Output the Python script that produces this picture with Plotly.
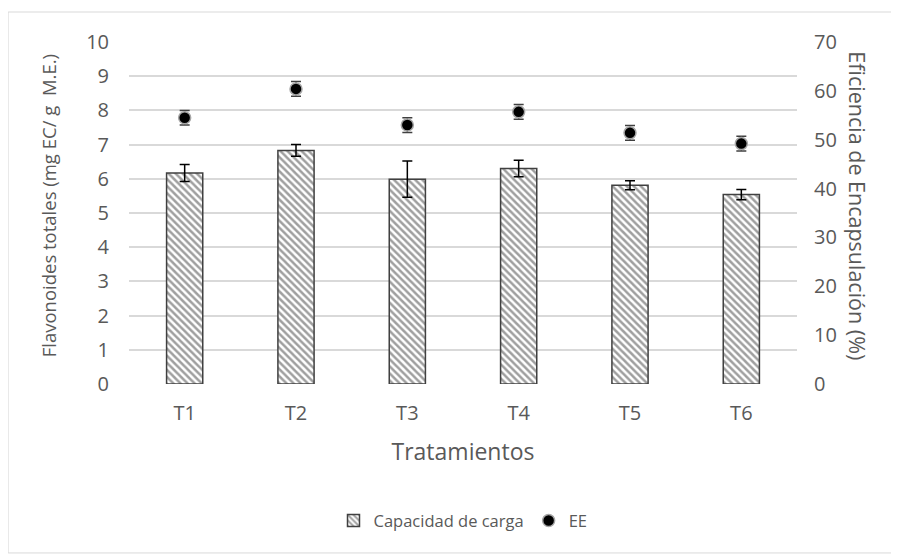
import plotly.graph_objects as go

categories = ["T1", "T2", "T3", "T4", "T5", "T6"]
capacidad = [6.17, 6.83, 5.99, 6.30, 5.81, 5.54]
capacidad_err = [0.25, 0.17, 0.53, 0.24, 0.13, 0.15]
ee = [54.5, 60.4, 53.0, 55.7, 51.4, 49.2]
ee_err = [1.5, 1.5, 1.5, 1.5, 1.5, 1.5]

font_family = "'Open Sans', sans-serif"
txt = "#595959"

fig = go.Figure()
fig.add_trace(go.Bar(
    x=categories, y=capacidad, name="Capacidad de carga",
    marker=dict(color="white",
                line=dict(color="#404040", width=1.5),
                pattern=dict(shape="\\", fgcolor="#404040", bgcolor="white",
                             size=5, solidity=0.5, fillmode="overlay")),
    error_y=dict(type="data", array=capacidad_err, color="black", thickness=1.5, width=5),
    yaxis="y",
))
fig.add_trace(go.Scatter(
    x=categories, y=ee, name="EE", mode="markers",
    marker=dict(color="black", size=12, line=dict(color="#a6a6a6", width=1.5)),
    error_y=dict(type="data", array=ee_err, color="#404040", thickness=1.5, width=5),
    yaxis="y2",
))

fig.update_layout(
    width=891, height=548,
    margin=dict(l=121, r=102, t=34, b=172),
    paper_bgcolor="white", plot_bgcolor="white",
    font=dict(family=font_family, color=txt, size=20),
    bargap=0.675,
    showlegend=True,
    legend=dict(orientation="h", x=0.5, xanchor="center", y=-0.40, yanchor="middle",
                font=dict(size=16.5, color=txt), itemwidth=30),
    xaxis=dict(title=dict(text="Tratamientos", font=dict(size=23), standoff=18),
               showgrid=False, showline=False, ticks="", zeroline=False,
               tickfont=dict(size=20), ticklabelstandoff=15),
    yaxis=dict(range=[0, 10], dtick=1, showgrid=True, gridcolor="#d9d9d9", gridwidth=1.5,
               zeroline=False, showline=False, ticks="", tickfont=dict(size=20),
               ticklabelstandoff=19),
    yaxis2=dict(range=[0, 70], dtick=10, overlaying="y", side="right", showgrid=False,
                zeroline=False, showline=False, ticks="", tickfont=dict(size=20),
                ticklabelstandoff=16),
    annotations=[
        dict(text="Flavonoides totales (mg EC/ g  M.E.)", xref="paper", yref="paper",
             x=-0.121, y=0.52, textangle=-90, showarrow=False,
             font=dict(size=18.5, color=txt), xanchor="center", yanchor="middle"),
        dict(text="Eficiencia de Encapsulación (%)", xref="paper", yref="paper",
             x=1.091, y=0.52, textangle=90, showarrow=False,
             font=dict(size=21.5, color=txt), xanchor="center", yanchor="middle"),
    ],
    shapes=[dict(type="rect", xref="paper", yref="paper",
                 x0=-0.181, x1=1.1497, y0=-0.494, y1=1.0877,
                 line=dict(color="#d9d9d9", width=1), fillcolor="rgba(0,0,0,0)", layer="below")],
)

fig.write_html("out.html")
